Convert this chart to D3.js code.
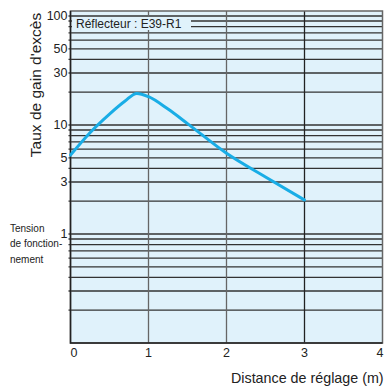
<!DOCTYPE html>
<html>
<head>
<meta charset="utf-8">
<script src="https://cdn.jsdelivr.net/npm/d3@7.9.0/dist/d3.min.js"></script>
<style>
  body { margin: 0; background: #fff; }
  text { font-family: "Liberation Sans", Arial, sans-serif; fill: #222; }
</style>
</head>
<body>
<div id="chart"></div>
<script>
// distance (m) vs excess gain ratio
const distance = [0, 0.25, 0.5, 0.7, 0.85, 1, 1.25, 1.5, 2, 2.5, 3];
const gain = [5.3, 8.5, 12.6, 16.6, 19.5, 18.2, 14.0, 10.3, 5.5, 3.33, 2.05];

const xTicks = [0, 1, 2, 3, 4];
const yLabels = [1, 3, 5, 10, 30, 50, 100];
const yGrid = [0.2, 0.3, 0.4, 0.5, 0.6, 0.7, 0.8, 0.9,
               1, 2, 3, 4, 5, 6, 7, 8, 9,
               10, 20, 30, 40, 50, 60, 70, 80, 90, 100];
const legendText = 'Réflecteur : E39-R1';
const yTitle = "Taux de gain d'excès";
const xTitle = 'Distance de réglage (m)';
const levelNote = ['Tension', 'de fonction-', 'nement'];

const width = 385;
const height = 387;
const margin = { top: 11, right: 2.5, bottom: 44, left: 70.5 };

const svg = d3.select('#chart')
  .append('svg')
  .attr('width', width)
  .attr('height', height);

const plot = {
  left: margin.left,
  right: width - margin.right,
  top: margin.top,
  bottom: height - margin.bottom,
};

const xScale = d3.scaleLinear()
  .domain([0, 4])
  .range([plot.left, plot.right]);

// log axis, top gridline (100) sits a little below the frame
const yScale = d3.scaleLog()
  .domain([0.1, 100])
  .range([plot.bottom, plot.top + 5]);

// background
svg.append('rect')
  .attr('x', plot.left)
  .attr('y', plot.top)
  .attr('width', plot.right - plot.left)
  .attr('height', plot.bottom - plot.top)
  .attr('fill', '#e0f2fb');

// horizontal gridlines
svg.append('g')
  .selectAll('line')
  .data(yGrid)
  .join('line')
  .attr('x1', plot.left - 2)
  .attr('x2', plot.right)
  .attr('y1', (d) => yScale(d))
  .attr('y2', (d) => yScale(d))
  .attr('stroke', '#333')
  .attr('stroke-width', 1.3);

// vertical gridlines
svg.append('g')
  .selectAll('line')
  .data(xTicks.slice(1, -1))
  .join('line')
  .attr('x1', (d) => xScale(d))
  .attr('x2', (d) => xScale(d))
  .attr('y1', plot.top)
  .attr('y2', plot.bottom)
  .attr('stroke', (d) => (d === 3 ? '#222' : '#666'))
  .attr('stroke-width', 1.3);

// frame
svg.append('rect')
  .attr('x', plot.left)
  .attr('y', plot.top)
  .attr('width', plot.right - plot.left)
  .attr('height', plot.bottom - plot.top)
  .attr('fill', 'none')
  .attr('stroke', '#666')
  .attr('stroke-width', 1.5);

svg.append('path')
  .attr('d', `M${plot.left},${plot.top}V${plot.bottom}H${plot.right}`)
  .attr('fill', 'none')
  .attr('stroke', '#222')
  .attr('stroke-width', 1.5);

// legend box
const legend = svg.append('g');
legend.append('rect')
  .attr('x', plot.left + 1.5)
  .attr('y', 17)
  .attr('width', 119)
  .attr('height', 13)
  .attr('fill', '#e0f2fb');
legend.append('text')
  .attr('x', plot.left + 5.5)
  .attr('y', 27.5)
  .attr('font-size', 12)
  .text(legendText);

// curve
const line = d3.line()
  .x((d, i) => xScale(distance[i]))
  .y((d) => yScale(d))
  .curve(d3.curveMonotoneX);

svg.append('path')
  .datum(gain)
  .attr('d', line)
  .attr('fill', 'none')
  .attr('stroke', '#19ade6')
  .attr('stroke-width', 3)
  .attr('stroke-linecap', 'round');

// y labels
svg.append('g')
  .selectAll('text')
  .data(yLabels)
  .join('text')
  .attr('x', plot.left - 3)
  .attr('y', (d) => yScale(d))
  .attr('dy', '0.35em')
  .attr('text-anchor', 'end')
  .attr('font-size', 12.5)
  .text((d) => d);

// x labels (kept inside the frame at the ends)
svg.append('g')
  .selectAll('text')
  .data(xTicks)
  .join('text')
  .attr('x', (d) => Math.min(Math.max(xScale(d), plot.left + 3.5), plot.right - 2.5))
  .attr('y', plot.bottom + 14)
  .attr('text-anchor', 'middle')
  .attr('font-size', 12.5)
  .text((d) => d);

// titles
svg.append('text')
  .attr('transform', `translate(41, 85) rotate(-90)`)
  .attr('text-anchor', 'middle')
  .attr('font-size', 15.5)
  .text(yTitle);

svg.append('text')
  .attr('x', 231)
  .attr('y', 383)
  .attr('font-size', 14.3)
  .text(xTitle);

svg.append('g')
  .selectAll('text')
  .data(levelNote)
  .join('text')
  .attr('x', 10)
  .attr('y', (d, i) => 232 + i * 15.3)
  .attr('font-size', 10)
  .text((d) => d);
</script>
</body>
</html>
